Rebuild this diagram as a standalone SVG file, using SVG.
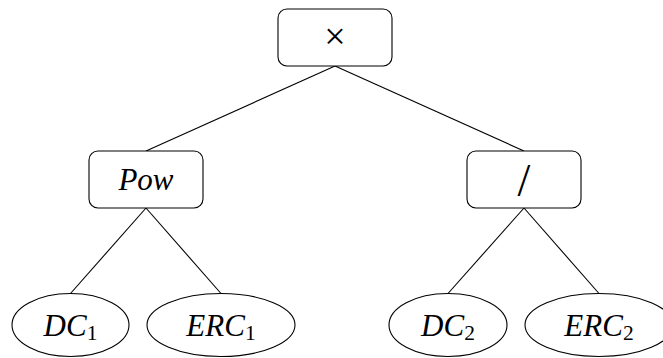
<svg xmlns="http://www.w3.org/2000/svg" width="663" height="358" viewBox="0 0 663 358">
  <style>
    .box { fill: #ffffff; stroke: #000000; stroke-width: 1.1; }
    .edge { stroke: #000000; stroke-width: 1.1; fill: none; }
    text { fill: #000000; text-anchor: middle; }
    .lbl { font-style: italic; }
    .sub { font-style: normal; }
  </style>
  <rect width="663" height="358" fill="#ffffff"/>

  <!-- connectors -->
  <g id="edges">
    <line class="edge" x1="335" y1="66" x2="146" y2="151"/>
    <line class="edge" x1="335" y1="66" x2="524" y2="151"/>
    <line class="edge" x1="146" y1="208" x2="70.5" y2="293.5"/>
    <line class="edge" x1="146" y1="208" x2="221" y2="293.5"/>
    <line class="edge" x1="524" y1="208" x2="448" y2="293.5"/>
    <line class="edge" x1="524" y1="208" x2="599" y2="293.5"/>
  </g>

  <!-- operator nodes -->
  <g id="times">
    <rect class="box" x="278" y="9" width="114" height="57" rx="9"/>
    <text x="335" y="49" font-family="Liberation Serif, serif" font-size="38">×</text>
  </g>
  <g id="pow">
    <rect class="box" x="89" y="151" width="114" height="57" rx="9"/>
    <text class="lbl" x="146" y="190" font-family="Liberation Serif, serif" font-size="31">Pow</text>
  </g>
  <g id="div">
    <rect class="box" x="467" y="151" width="114" height="57" rx="9"/>
    <text x="524" y="196" font-family="Liberation Serif, serif" font-size="46">/</text>
  </g>

  <!-- leaf nodes -->
  <g id="dc1">
    <ellipse class="box" cx="70.5" cy="325" rx="58.5" ry="31.5"/>
    <text class="lbl" x="70.5" y="336" font-family="Liberation Serif, serif" font-size="31">DC<tspan class="sub" dy="4" font-size="21.5">1</tspan></text>
  </g>
  <g id="erc1">
    <ellipse class="box" cx="221" cy="325" rx="74" ry="31.5"/>
    <text class="lbl" x="221" y="336" font-family="Liberation Serif, serif" font-size="31">ERC<tspan class="sub" dy="4" font-size="21.5">1</tspan></text>
  </g>
  <g id="dc2">
    <ellipse class="box" cx="448" cy="325" rx="59" ry="31.5"/>
    <text class="lbl" x="448" y="336" font-family="Liberation Serif, serif" font-size="31">DC<tspan class="sub" dy="4" font-size="21.5">2</tspan></text>
  </g>
  <g id="erc2">
    <ellipse class="box" cx="599" cy="325" rx="74" ry="31.5"/>
    <text class="lbl" x="599" y="336" font-family="Liberation Serif, serif" font-size="31">ERC<tspan class="sub" dy="4" font-size="21.5">2</tspan></text>
  </g>
</svg>
